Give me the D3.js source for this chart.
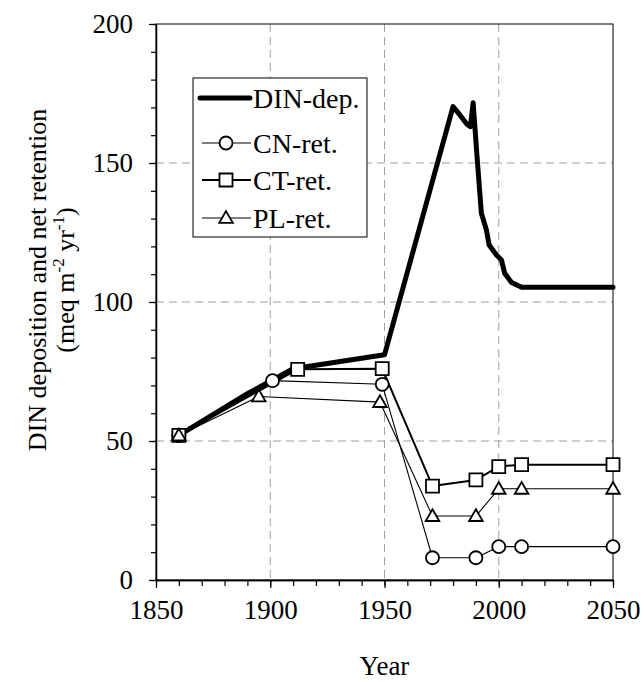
<!DOCTYPE html>
<html>
<head>
<meta charset="utf-8">
<script src="https://cdn.jsdelivr.net/npm/d3@7"></script>
<style>
  body { margin: 0; background: #fff; }
  svg text { font-family: "Liberation Serif", "Times New Roman", serif; fill: #000; }
</style>
</head>
<body>
<div id="chart"></div>
<script>
// data
var depYears = [1860, 1890, 1900, 1910, 1950, 1980, 1983, 1986, 1987.6, 1988.8, 1990.5, 1992.4, 1994.6, 1995.8, 1999, 2001.2, 2002.6, 2005.6, 2010, 2050];
var depValues = [52, 67, 71.5, 76, 81, 170.3, 167.3, 164, 163.1, 171.7, 152.3, 131.9, 125.9, 120.5, 116.9, 115.1, 110.3, 107, 105.3, 105.3];

var cnYears = [1860, 1901, 1949, 1971, 1990, 2000, 2010, 2050];
var cnValues = [52, 71.7, 70.4, 8, 8, 12, 12, 12];

var ctYears = [1860, 1912, 1949, 1971, 1990, 2000, 2010, 2050];
var ctValues = [52, 75.8, 76, 33.8, 36, 40.8, 41.5, 41.5];

var plYears = [1860, 1895, 1948, 1971, 1990, 2000, 2010, 2050];
var plValues = [52, 66, 64, 23, 23, 32.8, 32.8, 32.8];

var seriesNames = ['DIN-dep.', 'CN-ret.', 'CT-ret.', 'PL-ret.'];
var xTicks = [1850, 1900, 1950, 2000, 2050];
var yTicks = [0, 50, 100, 150, 200];

var W = 644, H = 682;
var plot = { left: 156, right: 613, top: 24, bottom: 580 };
var font = '"Liberation Serif", "Times New Roman", serif';

var svg = d3.select('#chart').append('svg').attr('width', W).attr('height', H);

var x = d3.scaleLinear().domain([1850, 2050]).range([plot.left, plot.right]);
var y = d3.scaleLinear().domain([0, 200]).range([plot.bottom, plot.top]);

function pairs(xs, ys) {
    return xs.map(function(v, i) { return [v, ys[i]]; });
}

// grid
var grid = svg.append('g').attr('class', 'grid');
grid.selectAll('line.gx').data(xTicks.slice(1, -1)).enter().append('line')
    .attr('x1', function(d) { return x(d); }).attr('x2', function(d) { return x(d); })
    .attr('y1', plot.top).attr('y2', plot.bottom);
grid.selectAll('line.gy').data(yTicks.slice(1, -1)).enter().append('line')
    .attr('x1', plot.left).attr('x2', plot.right)
    .attr('y1', function(d) { return y(d); }).attr('y2', function(d) { return y(d); });
grid.selectAll('line').attr('stroke', '#a0a0a0').attr('stroke-width', 1).attr('stroke-dasharray', '8,5');

// frame
svg.append('rect').attr('x', plot.left).attr('y', plot.top)
    .attr('width', plot.right - plot.left).attr('height', plot.bottom - plot.top)
    .attr('fill', 'none').attr('stroke', '#000').attr('stroke-width', 1);

// axes
var yMinor = d3.axisLeft(y).tickValues(d3.range(0, 201, 10)).tickSize(5).tickFormat('').tickSizeOuter(0);
var yMajor = d3.axisLeft(y).tickValues(yTicks).tickSize(7).tickSizeOuter(0).tickPadding(16);
var xMinor = d3.axisBottom(x).tickValues(d3.range(1850, 2051, 10)).tickSize(6).tickFormat('').tickSizeOuter(0);
var xMajor = d3.axisBottom(x).tickValues(xTicks).tickSize(8).tickSizeOuter(0).tickPadding(12).tickFormat(d3.format('d'));

[yMinor, yMajor].forEach(function(ax) {
    svg.append('g').attr('transform', 'translate(' + plot.left + ',0)').call(ax);
});
[xMinor, xMajor].forEach(function(ax) {
    svg.append('g').attr('transform', 'translate(0,' + plot.bottom + ')').call(ax);
});
svg.selectAll('.domain').attr('stroke', '#000').attr('stroke-width', 1.3);
svg.selectAll('.tick line').attr('stroke', '#000').attr('stroke-width', 1.2);
svg.selectAll('.tick text').attr('font-family', font).attr('font-size', 27).attr('fill', '#000');

// axis titles
svg.append('text').attr('x', x(1950)).attr('y', 675).attr('text-anchor', 'middle')
    .attr('font-size', 27).text('Year');

var yt = svg.append('g').attr('transform', 'translate(0,280) rotate(-90)');
yt.append('text').attr('x', 0).attr('y', 46).attr('text-anchor', 'middle')
    .attr('font-size', 26).text('DIN deposition and net retention');
var t2 = yt.append('text').attr('x', 0).attr('y', 74).attr('text-anchor', 'middle').attr('font-size', 26);
t2.append('tspan').text('(meq m');
t2.append('tspan').attr('font-size', 17).attr('dy', -10).text('-2');
t2.append('tspan').attr('dy', 10).text(' yr');
t2.append('tspan').attr('font-size', 17).attr('dy', -10).text('-1');
t2.append('tspan').attr('dy', 10).text(')');

// series
var line = d3.line().x(function(d) { return x(d[0]); }).y(function(d) { return y(d[1]); });
var symCircle = d3.symbol().type(d3.symbolCircle).size(Math.PI * 6.5 * 6.5);
var symSquare = d3.symbol().type(d3.symbolSquare).size(13 * 13);
var symTriangle = d3.symbol().type(d3.symbolTriangle).size(80);

var series = [
    { name: seriesNames[0], data: pairs(depYears, depValues), width: 5, sym: null },
    { name: seriesNames[1], data: pairs(cnYears, cnValues), width: 1.1, sym: symCircle },
    { name: seriesNames[2], data: pairs(ctYears, ctValues), width: 2, sym: symSquare },
    { name: seriesNames[3], data: pairs(plYears, plValues), width: 1.1, sym: symTriangle }
];

var lines = svg.append('g').attr('class', 'lines');
series.forEach(function(s) {
    lines.append('path').datum(s.data).attr('d', line)
        .attr('fill', 'none').attr('stroke', '#000').attr('stroke-width', s.width)
        .attr('stroke-linejoin', 'round').attr('stroke-linecap', 'round');
});
var marks = svg.append('g').attr('class', 'marks');
series.forEach(function(s) {
    if (!s.sym) return;
    marks.selectAll(null).data(s.data).enter().append('path')
        .attr('d', s.sym)
        .attr('transform', function(d) {
            var off = s.sym === symTriangle ? 1 : 0;
            return 'translate(' + x(d[0]) + ',' + (y(d[1]) + off) + ')';
        })
        .attr('fill', '#fff').attr('stroke', '#000').attr('stroke-width', 1.8);
});

// legend
var lg = svg.append('g').attr('class', 'legend');
lg.append('rect').attr('x', 193).attr('y', 78).attr('width', 174).attr('height', 159)
    .attr('fill', '#fff').attr('stroke', '#000').attr('stroke-width', 1);
var rowY = [98, 143, 180, 218];
series.forEach(function(s, i) {
    var g = lg.append('g').attr('transform', 'translate(0,' + rowY[i] + ')');
    g.append('line').attr('x1', i === 0 ? 200 : 202).attr('x2', i === 0 ? 250 : 251)
        .attr('y1', 0).attr('y2', 0).attr('stroke', '#000').attr('stroke-width', s.width)
        .attr('stroke-linecap', i === 0 ? 'round' : 'butt');
    if (s.sym) {
        g.append('path').attr('d', s.sym).attr('transform', 'translate(226,' + (s.sym === symTriangle ? 1 : 0) + ')')
            .attr('fill', '#fff').attr('stroke', '#000').attr('stroke-width', 1.8);
    }
    g.append('text').attr('x', 253).attr('y', 9.5).attr('font-size', 28).text(s.name);
});
</script>
</body>
</html>
